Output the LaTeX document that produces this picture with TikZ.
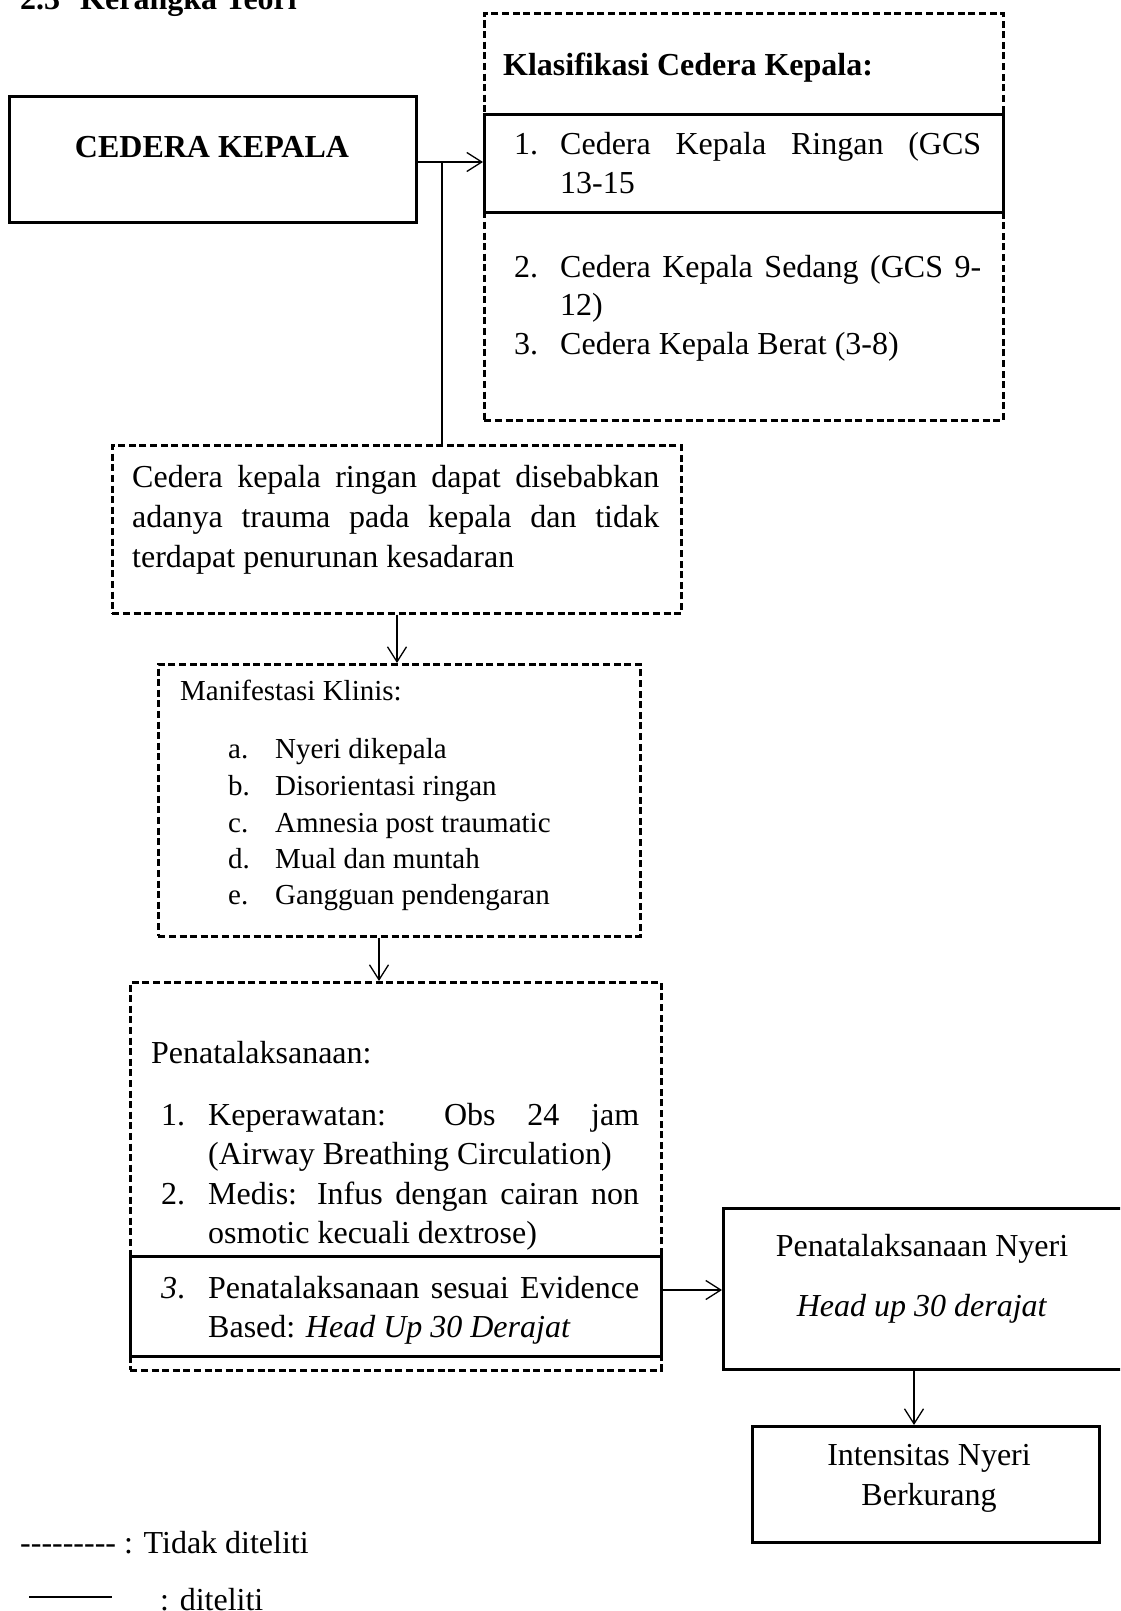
\documentclass[tikz,border=0pt]{standalone}
\usepackage{fontspec}
\setmainfont{Liberation Serif}
\usetikzlibrary{arrows.meta}
\newcommand\jline[2]{\makebox[#1][s]{#2}}
\newcommand\dashrow{-\kern0pt-\kern0pt-\kern0pt-\kern0pt-\kern0pt-\kern0pt-\kern0pt-\kern0pt-}
\begin{document}
\begin{tikzpicture}[x=1pt,y=-1pt,
  solidbox/.style={draw, line width=2.7pt, inner sep=0pt, anchor=north west},
  dashbox/.style={draw, line width=2.6pt, dash pattern=on 7pt off 3.6pt, inner sep=0pt, anchor=north west},
  conn/.style={line width=1.3pt, -{Straight Barb[length=15pt,width=19pt,line width=1.3pt]}},
  plain/.style={line width=1.3pt},
  txt/.style={inner sep=0pt, anchor=base west, font=\fontsize{32}{40}\selectfont},
  txts/.style={inner sep=0pt, anchor=base west, font=\fontsize{29}{36}\selectfont},
  txtb/.style={inner sep=0pt, anchor=base west, font=\bfseries\fontsize{32}{40}\selectfont}]
\useasboundingbox (0,0) rectangle (1120,1611);
\fill[white] (0,0) rectangle (1120,1611);
\clip (0,0) rectangle (1120,1611);

% title
\node[txtb] (title) at (20,10) {2.3\hspace{20pt}Kerangka Teori};

% CEDERA KEPALA
\node[solidbox, minimum width=407pt, minimum height=126pt] (ck) at (8,95) {};
\node[txtb, anchor=base] (ckt) at (212,157) {CEDERA KEPALA};

% Klasifikasi
\node[dashbox, minimum width=519pt, minimum height=407pt] (klas) at (483,12) {};
\node[solidbox, minimum width=519pt, minimum height=98pt] (k1) at (483,113) {};
\node[txtb] (klast) at (503,75) {Klasifikasi Cedera Kepala:};
\node[txt] (k1n) at (514,154) {1.};
\node[txt] (k1a) at (560,154) {\jline{421pt}{Cedera Kepala Ringan (GCS}};
\node[txt] (k1b) at (560,193) {13-15};
\node[txt] (k2n) at (514,277) {2.};
\node[txt] (k2a) at (560,277) {\jline{421pt}{Cedera Kepala Sedang (GCS 9-}};
\node[txt] (k2b) at (560,315) {12)};
\node[txt] (k3n) at (514,354) {3.};
\node[txt] (k3a) at (560,354) {Cedera Kepala Berat (3-8)};

% Cedera kepala ringan
\node[dashbox, minimum width=569pt, minimum height=168pt] (ringan) at (111,444) {};
\node[txt] (r1) at (132,487) {\jline{527pt}{Cedera kepala ringan dapat disebabkan}};
\node[txt] (r2) at (132,527) {\jline{527pt}{adanya trauma pada kepala dan tidak}};
\node[txt] (r3) at (132,567) {terdapat penurunan kesadaran};

% Manifestasi
\node[dashbox, minimum width=482pt, minimum height=272pt] (manif) at (157,663) {};
\node[txts] (mt) at (180,700) {Manifestasi Klinis:};
\node[txts] (ma) at (228,758) {a.};
\node[txts] (mat) at (275,758) {Nyeri dikepala};
\node[txts] (mb) at (228,795) {b.};
\node[txts] (mbt) at (275,795) {Disorientasi ringan};
\node[txts] (mc) at (228,832) {c.};
\node[txts] (mct) at (275,832) {Amnesia post traumatic};
\node[txts] (md) at (228,868) {d.};
\node[txts] (mdt) at (275,868) {Mual dan muntah};
\node[txts] (me) at (228,904) {e.};
\node[txts] (met) at (275,904) {Gangguan pendengaran};

% Penatalaksanaan
\node[dashbox, minimum width=531pt, minimum height=388pt] (penat) at (129,981) {};
\node[solidbox, minimum width=531pt, minimum height=100pt] (p3) at (129,1255) {};
\node[txt] (pt) at (151,1063) {Penatalaksanaan:};
\node[txt] (p1n) at (161,1125) {1.};
\node[txt] (p1a) at (208,1125) {\jline{431pt}{Keperawatan: Obs 24 jam}};
\node[txt] (p1b) at (208,1164) {(Airway Breathing Circulation)};
\node[txt] (p2n) at (161,1204) {2.};
\node[txt] (p2a) at (208,1204) {\jline{431pt}{Medis: Infus dengan cairan non}};
\node[txt] (p2b) at (208,1243) {osmotic kecuali dextrose)};
\node[txt] (p3n) at (161,1298) {\textit{3}.};
\node[txt] (p3a) at (208,1298) {\jline{431pt}{Penatalaksanaan sesuai Evidence}};
\node[txt] (p3b) at (208,1337) {Based: \textit{Head Up 30 Derajat}};

% Nyeri
\node[solidbox, minimum width=405pt, minimum height=161pt] (nyeri) at (722,1207) {};
\node[txt, anchor=base] (ny1) at (922,1256) {Penatalaksanaan Nyeri};
\node[txt, anchor=base] (ny2) at (922,1316) {\textit{Head up 30 derajat}};

% Intensitas
\node[solidbox, minimum width=347pt, minimum height=116pt] (intens) at (751,1425) {};
\node[txt, anchor=base] (in1) at (929,1465) {Intensitas Nyeri};
\node[txt, anchor=base] (in2) at (929,1505) {Berkurang};

% connectors
\coordinate (j) at (442,162);
\draw[conn] (ck.east |- j) -- (klas.west |- j);
\draw[plain] (j) -- (j |- ringan.north);
\coordinate (a1) at (397,0);
\draw[conn] (ringan.south -| a1) -- (manif.north -| a1);
\coordinate (a2) at (379,0);
\draw[conn] (manif.south -| a2) -- (penat.north -| a2);
\coordinate (a3) at (0,1290);
\draw[conn] (p3.east |- a3) -- (nyeri.west |- a3);
\coordinate (a4) at (914,0);
\draw[conn] (nyeri.south -| a4) -- (intens.north -| a4);

% legend
\node[txt] (leg1) at (20,1553) {\dashrow\ : Tidak diteliti};
\coordinate (l2a) at (29,1597);
\coordinate (l2b) at (112,1597);
\draw[plain] (l2a) -- (l2b);
\node[txt] (leg2) at (160,1610) {: diteliti};
\end{tikzpicture}
\end{document}
